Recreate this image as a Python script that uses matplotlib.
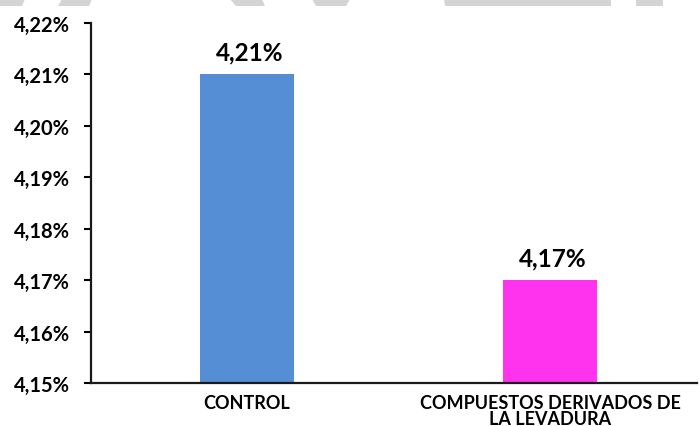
import matplotlib
matplotlib.use("Agg")
import matplotlib.pyplot as plt
from matplotlib.patches import Polygon

categories = ["CONTROL", "COMPUESTOS DERIVADOS DE\nLA LEVADURA"]
values = [4.21, 4.17]
colors = ["#558ED5", "#FF33EE"]
y_ticks = [4.15, 4.16, 4.17, 4.18, 4.19, 4.20, 4.21, 4.22]


def pct(v):
    return f"{v:.2f}".replace(".", ",") + "%"


plt.rcParams["font.family"] = ["Lato", "DejaVu Sans"]

W, H = 699, 427
fig = plt.figure(figsize=(W / 100, H / 100), dpi=100)
ax = fig.add_axes([91 / W, 1 - 384 / H, (697 - 91) / W, (384 - 24) / H])

x = list(range(len(categories)))
bars = ax.bar(x, values, width=0.31, color=colors, zorder=2)

ax.set_ylim(y_ticks[0], y_ticks[-1])
ax.set_xlim(-0.515, 1.485)
ax.set_yticks(y_ticks)
ax.set_yticklabels([pct(v) for v in y_ticks])
ax.set_xticks(x)
ax.set_xticklabels(categories, fontsize=13, fontweight="bold", linespacing=0.92)

for s in ("top", "right"):
    ax.spines[s].set_visible(False)
for s in ("left", "bottom"):
    ax.spines[s].set_linewidth(1.6)
    ax.spines[s].set_color("#1a1a1a")

ax.tick_params(axis="y", direction="out", length=5, width=1.5, pad=10,
               labelsize=14.5)
for lbl in ax.get_yticklabels():
    lbl.set_fontweight("bold")
ax.tick_params(axis="x", length=0, pad=8)

for b, v in zip(bars, values):
    ax.annotate(pct(v), (b.get_x() + b.get_width() / 2, v),
                xytext=(2, 8), textcoords="offset points",
                ha="center", va="bottom", fontsize=17.5, fontweight="bold")

# faint grey shapes along the top edge
grey = "#d4d4d4"
shapes = [
    [(0, 0), (25, 0), (22, 7), (0, 7)],
    [(62, 0), (92, 0), (89, 7), (58, 7)],
    [(230, 0), (262, 0), (265, 7), (236, 7)],
    [(312, 0), (350, 0), (346, 7), (316, 7)],
    [(444, 0), (611, 0), (611, 7), (445, 7)],
    [(636, 0), (663, 0), (663, 7), (636, 7)],
]
for pts in shapes:
    fig.patches.append(Polygon([(px / W, 1 - py / H) for px, py in pts],
                               closed=True, transform=fig.transFigure,
                               facecolor=grey, edgecolor="none"))

fig.savefig("out.png", dpi=100)
